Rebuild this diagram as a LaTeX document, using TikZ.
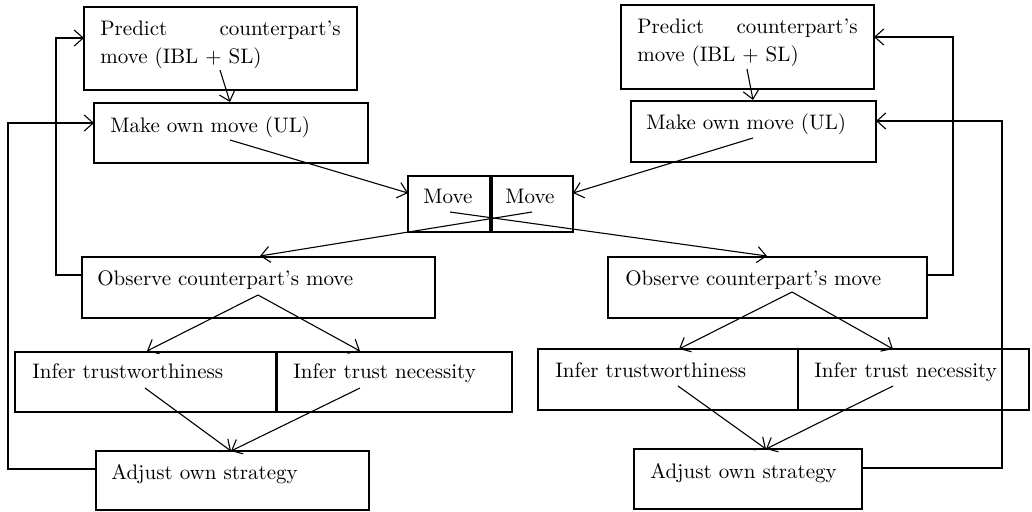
\documentclass[tikz,border=0pt]{standalone}
\usetikzlibrary{arrows.meta,fit}
\begin{document}
\begin{tikzpicture}[x=0.5pt,y=-0.5pt,
  box/.style={draw, line width=0.55pt, inner sep=0pt},
  txt/.style={inner sep=0pt, font=\fontsize{10.5}{12}\selectfont},
  arr/.style={line width=0.55pt, -{Straight Barb[length=4.5pt,width=8pt]}},
  ln/.style={line width=0.55pt}]
\useasboundingbox (0,0) rectangle (1032,511);
% ---------- left side boxes
\node[box, fit={(84,7)(357,90)}] (lpred) {};
\node[box, fit={(94,103)(368,163)}] (lmake) {};
\node[box, fit={(82,257)(435,318)}] (lobs) {};
\node[box, fit={(15,352)(276,412)}] (ltw) {};
\node[box, fit={(277,352)(512,412)}] (lnec) {};
\node[box, fit={(96,451)(369,510)}] (ladj) {};
% ---------- centre
\node[box, fit={(408,176)(490,232)}] (mvl) {};
\node[box, fit={(492,176)(573,232)}] (mvr) {};
% ---------- right side boxes
\node[box, fit={(621,5)(874,89)}] (rpred) {};
\node[box, fit={(631,101)(876,162)}] (rmake) {};
\node[box, fit={(608,257)(927,318)}] (robs) {};
\node[box, fit={(538,349)(798,410)}] (rtw) {};
\node[box, fit={(798,349)(1029,410)}] (rnec) {};
\node[box, fit={(634,449)(862,509)}] (radj) {};
% ---------- texts
\node[txt, anchor=base west] (t1a) at (100,35) {Predict};
\node[txt, anchor=base east] (t1b) at (341,35) {counterpart’s};
\node[txt, anchor=base west] (t1c) at (100,63) {move (IBL + SL)};
\node[txt, anchor=base west] (t2) at (110,132) {Make own move (UL)};
\node[txt, anchor=base west] (t3) at (97,285) {Observe counterpart’s move};
\node[txt, anchor=base west] (t4) at (32,378) {Infer trustworthiness};
\node[txt, anchor=base west] (t5) at (293,378) {Infer trust necessity};
\node[txt, anchor=base west] (t6) at (111,479) {Adjust own strategy};
\node[txt, anchor=base west] (tm1) at (423,203) {Move};
\node[txt, anchor=base west] (tm2) at (505,203) {Move};
\node[txt, anchor=base west] (s1a) at (637,33) {Predict};
\node[txt, anchor=base east] (s1b) at (858,33) {counterpart’s};
\node[txt, anchor=base west] (s1c) at (637,61) {move (IBL + SL)};
\node[txt, anchor=base west] (s2) at (646,129) {Make own move (UL)};
\node[txt, anchor=base west] (s3) at (625,285) {Observe counterpart’s move};
\node[txt, anchor=base west] (s4) at (555,377) {Infer trustworthiness};
\node[txt, anchor=base west] (s5) at (814,377) {Infer trust necessity};
\node[txt, anchor=base west] (s6) at (650,478) {Adjust own strategy};
% ---------- connector end points
\coordinate (a1) at (220,70);  \coordinate (a2) at (230,102);
\coordinate (b1) at (230,140); \coordinate (b2) at (408,193);
\coordinate (c1) at (747,69);  \coordinate (c2) at (753,100);
\coordinate (d1) at (753,138); \coordinate (d2) at (573,193);
\coordinate (e1) at (450,212); \coordinate (e2) at (767,256);
\coordinate (f1) at (532,212); \coordinate (f2) at (260,256);
\coordinate (g1) at (258,295); \coordinate (g2) at (147,351); \coordinate (g3) at (360,351);
\coordinate (h1) at (145,388); \coordinate (h2) at (360,388); \coordinate (h3) at (231,451);
\coordinate (i1) at (792,292); \coordinate (i2) at (679,349); \coordinate (i3) at (893,349);
\coordinate (j1) at (678,386); \coordinate (j2) at (893,386); \coordinate (j3) at (766,449);
\coordinate (k1) at (82,275);  \coordinate (k2) at (56,38);   \coordinate (k3) at (84,38);
\coordinate (l1) at (96,469);  \coordinate (l2) at (8,123);   \coordinate (l3) at (94,123);
\coordinate (m1) at (927,275); \coordinate (m2) at (953,37);  \coordinate (m3) at (874,37);
\coordinate (n1) at (862,468); \coordinate (n2) at (1002,121); \coordinate (n3) at (876,121);
% ---------- connectors
\draw[arr] (a1) -- (a2);
\draw[arr] (b1) -- (b2);
\draw[arr] (c1) -- (c2);
\draw[arr] (d1) -- (d2);
\draw[arr] (e1) -- (e2);
\draw[arr] (f1) -- (f2);
\draw[arr] (g1) -- (g2);
\draw[arr] (g1) -- (g3);
\draw[arr] (h1) -- (h3);
\draw[arr] (h2) -- (h3);
\draw[arr] (i1) -- (i2);
\draw[arr] (i1) -- (i3);
\draw[arr] (j1) -- (j3);
\draw[arr] (j2) -- (j3);
\draw[arr] (k1) -| (k2) -- (k3);
\draw[arr] (l1) -| (l2) -- (l3);
\draw[arr] (m1) -| (m2) -- (m3);
\draw[arr] (n1) -| (n2) -- (n3);
\end{tikzpicture}
\end{document}
